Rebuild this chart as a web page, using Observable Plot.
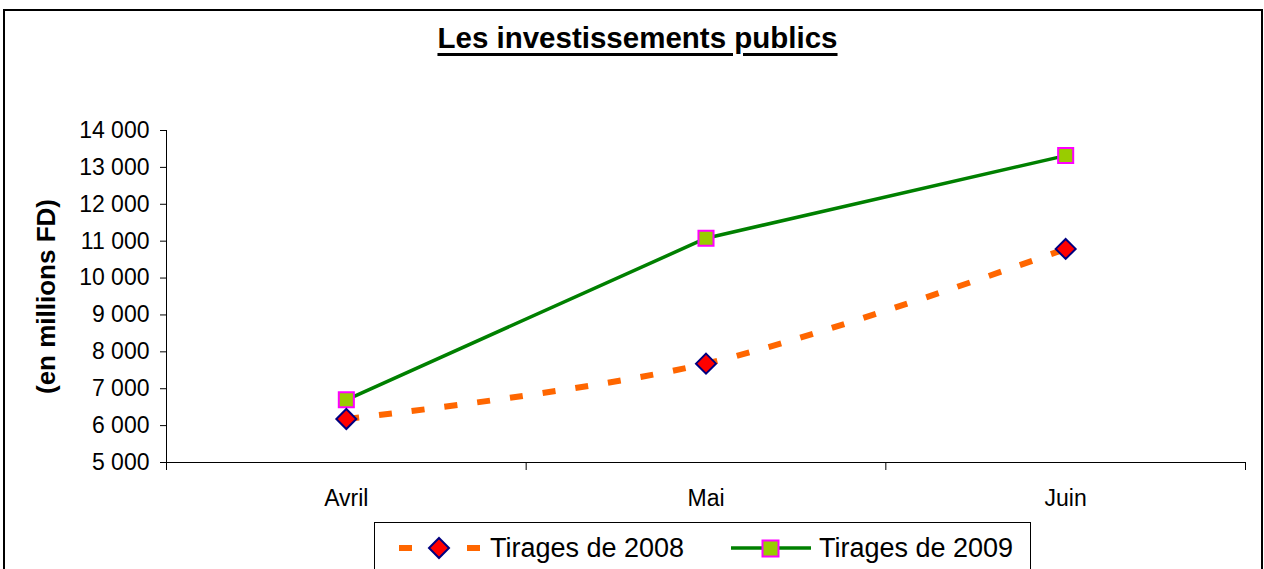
<!DOCTYPE html>
<html><head><meta charset="utf-8">
<script src="https://cdn.jsdelivr.net/npm/d3@7"></script>
<script src="https://cdn.jsdelivr.net/npm/@observablehq/plot@0.6"></script>
<style>
body{margin:0;background:#fff;font-family:"Liberation Sans",Arial,sans-serif;}
#wrap{position:relative;width:1264px;height:569px;overflow:hidden;background:#fff;}
#frame{position:absolute;left:3px;top:9px;width:1256px;height:600px;border:2px solid #000;}
#title{position:absolute;left:0;width:1275px;top:23px;text-align:center;font-weight:bold;font-size:29.5px;line-height:29.5px;text-decoration:underline;text-decoration-thickness:3px;text-underline-offset:5px;color:#000;}
#chart{position:absolute;left:0;top:0;}
#legend{position:absolute;left:374px;top:522px;width:655px;height:70px;border:1px solid #000;background:#fff;}
#legend svg{position:absolute;left:0;top:0;}
#legend span{position:absolute;font-size:27px;line-height:27px;top:12px;color:#000;white-space:nowrap;}
</style>
</head><body>
<div id="wrap">
  <div id="frame"></div>
  <div id="title">Les investissements publics</div>
  <div id="chart"></div>
  <div id="legend"></div>
</div>
<script>
const months = ["Avril", "Mai", "Juin"];
const tirages2008 = [6180, 7680, 10790];
const tirages2009 = [6700, 11080, 13320];
const yTicks = [5000, 6000, 7000, 8000, 9000, 10000, 11000, 12000, 13000, 14000];
const xBoundaries = [-0.5, 0.5, 1.5, 2.5];
const seriesNames = ["Tirages de 2008", "Tirages de 2009"];

const d2008 = months.map((m, i) => ({i, m, v: tirages2008[i]}));
const d2009 = months.map((m, i) => ({i, m, v: tirages2009[i]}));
const fmt = d => d3.format(",")(d).replace(/,/g, " ");

const chart = Plot.plot({
  width: 1264,
  height: 569,
  marginTop: 130,
  marginBottom: 107,
  marginLeft: 166,
  marginRight: 19,
  style: {fontFamily: '"Liberation Sans", Arial, sans-serif', color: "#000", background: "transparent", overflow: "visible"},
  x: {type: "linear", domain: [xBoundaries[0], xBoundaries[xBoundaries.length - 1]]},
  y: {domain: [yTicks[0], yTicks[yTicks.length - 1]]},
  marks: [
    Plot.axisY({ticks: yTicks, tickSize: 6, tickPadding: 11, tickFormat: fmt, fontSize: 23,
      label: "(en millions FD)", labelAnchor: "center", labelArrow: "none", labelOffset: 130}),
    Plot.axisX({ticks: xBoundaries, tickSize: 8, tickFormat: () => "", label: null}),
    Plot.axisX({ticks: months.map((m, i) => i), tickSize: 0, tickPadding: 27, fontSize: 23,
      tickFormat: i => months[i], label: null}),
    Plot.ruleX([xBoundaries[0]], {stroke: "#000", strokeWidth: 1}),
    Plot.ruleY([yTicks[0]], {stroke: "#000", strokeWidth: 1}),
    Plot.line(d2008, {x: "i", y: "v", stroke: "#FF6600", strokeWidth: 6, strokeDasharray: "13,20", strokeLinecap: "butt", curve: "catmull-rom"}),
    Plot.line(d2009, {x: "i", y: "v", stroke: "#008000", strokeWidth: 3.5}),
    Plot.dot(d2009, {x: "i", y: "v", symbol: "square", r: 8.5, fill: "#99CC00", stroke: "#FF00FF", strokeWidth: 2}),
    Plot.dot(d2008, {x: "i", y: "v", symbol: "diamond2", r: 9, fill: "#FF0000", stroke: "#000080", strokeWidth: 2})
  ]
});
chart.querySelectorAll("[aria-label='y-axis label'] text, g[aria-label='y-axis label']").forEach(e => {
  e.setAttribute("font-weight", "bold"); e.setAttribute("font-size", "26");
});
document.getElementById("chart").appendChild(chart);

// Legend
const lg = document.getElementById("legend");
const ns = "http://www.w3.org/2000/svg";
const sw = document.createElementNS(ns, "svg");
sw.setAttribute("width", 655); sw.setAttribute("height", 70);
sw.innerHTML = `
  <line x1="24" x2="37" y1="25" y2="25" stroke="#FF6600" stroke-width="6"/>
  <line x1="92" x2="105" y1="25" y2="25" stroke="#FF6600" stroke-width="6"/>
  <path d="M64,15 L74,25 L64,35 L54,25 Z" fill="#FF0000" stroke="#000080" stroke-width="2"/>
  <line x1="356" x2="436" y1="25" y2="25" stroke="#008000" stroke-width="3.5"/>
  <rect x="387.5" y="17.5" width="16" height="16" fill="#99CC00" stroke="#FF00FF" stroke-width="2"/>`;
lg.appendChild(sw);
const t1 = document.createElement("span"); t1.textContent = seriesNames[0]; t1.style.left = "115px"; lg.appendChild(t1);
const t2 = document.createElement("span"); t2.textContent = seriesNames[1]; t2.style.left = "444px"; lg.appendChild(t2);
</script>
</body></html>
